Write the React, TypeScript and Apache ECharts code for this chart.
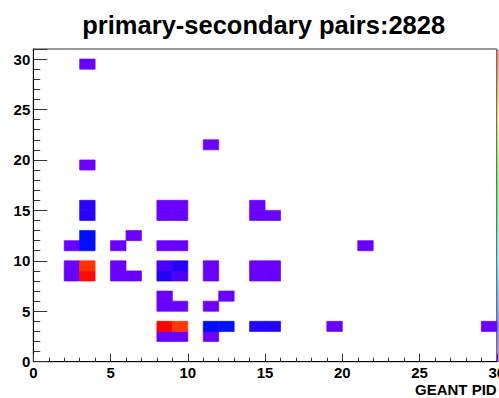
import React, { useEffect, useRef } from "react";
import * as echarts from "echarts";

// Bin lower edges (GEANT PID of primary, secondary) and pair counts
const xBins = [2, 2, 2, 3, 3, 3, 3, 3, 3, 3, 3, 5, 5, 5, 6, 6, 8, 8, 8, 8, 8, 8, 8, 8, 8, 9, 9, 9, 9, 9, 9, 9, 9, 11, 11, 11, 11, 11, 11, 12, 12, 14, 14, 14, 14, 14, 15, 15, 15, 15, 19, 21, 29];
const yBins = [8, 9, 11, 8, 9, 11, 12, 14, 15, 19, 29, 8, 9, 11, 8, 12, 2, 3, 5, 6, 8, 9, 11, 14, 15, 2, 3, 5, 8, 9, 11, 14, 15, 2, 3, 5, 8, 9, 21, 3, 6, 3, 8, 9, 14, 15, 3, 8, 9, 14, 3, 11, 3];
const counts = [10, 9, 10, 494, 477, 62, 60, 38, 36, 9, 9, 10, 9, 10, 10, 9, 10, 499, 10, 9, 40, 22, 10, 11, 10, 10, 474, 10, 22, 40, 10, 11, 10, 10, 60, 9, 10, 10, 9, 62, 9, 40, 10, 10, 10, 10, 40, 10, 10, 9, 10, 10, 10];

const xTicks = { min: 0, max: 30, interval: 5 };
const yTicks = { min: 0, max: 31, interval: 5 };
const titleText = "primary-secondary pairs:2828";
const xTitle = "GEANT PID";

const palette = ["#8000ff", "#0000ff", "#0080ff", "#00ffff", "#00ff80", "#00ff00", "#80ff00", "#ffff00", "#ff8000", "#ff0000"];

export default function App() {
  const ref = useRef<HTMLDivElement>(null);
  useEffect(() => {
    if (!ref.current) return;
    const chart = echarts.init(ref.current, null, { renderer: "svg" });
    const data = xBins.map((x, i) => [x, yBins[i], counts[i]]);
    const maxCount = Math.max(...counts);
    const font = "'Liberation Sans', Arial, sans-serif";
    const tickColor = "#333";
    const axisCommon = (tickLen: number, minorLen: number) => ({
      type: "value",
      axisLine: { show: true, onZero: false, lineStyle: { color: "#000", width: 1 } },
      axisTick: { show: true, inside: true, length: tickLen, lineStyle: { color: tickColor, width: 1 } },
      minorTick: { show: true, splitNumber: 5, length: minorLen, lineStyle: { color: tickColor, width: 1 } },
      splitLine: { show: false },
      minorSplitLine: { show: false },
      axisLabel: {
        fontSize: 15,
        fontWeight: "bold",
        fontFamily: font,
        color: "#000",
        formatter: (v: number) => (v % 5 === 0 ? String(v) : ""),
      },
    });
    const xAxis: any = axisCommon(8, 4);
    xAxis.min = xTicks.min;
    xAxis.max = xTicks.max;
    xAxis.interval = xTicks.interval;
    xAxis.axisLabel.margin = 3;
    const yAxis: any = axisCommon(14, 7);
    yAxis.min = yTicks.min;
    yAxis.max = yTicks.max;
    yAxis.interval = yTicks.interval;
    yAxis.axisLabel.margin = 3;
    yAxis.axisLabel.showMaxLabel = false;

    chart.setOption({
      animation: false,
      backgroundColor: "#fff",
      grid: {
        left: 33.3,
        right: 2.2,
        top: 49,
        bottom: 36.3,
        show: true,
        borderColor: "#333",
        borderWidth: 1,
        outerBoundsMode: "none",
        containLabel: false,
      },
      xAxis,
      yAxis,
      visualMap: {
        show: false,
        type: "continuous",
        dimension: 2,
        seriesIndex: 0,
        min: 0,
        max: maxCount,
        inRange: { color: palette },
      },
      series: [
        {
          type: "custom",
          data,
          encode: { x: 0, y: 1 },
          clip: true,
          renderItem: (params: any, api: any) => {
            const x = api.value(0);
            const y = api.value(1);
            const p0 = api.coord([x, y + 1]);
            const p1 = api.coord([x + 1, y]);
            const color = api.visual("color");
            return {
              type: "rect",
              shape: { x: p0[0], y: p0[1], width: p1[0] - p0[0], height: p1[1] - p0[1] },
              style: { fill: color, stroke: color, lineWidth: 0.7 },
            };
          },
        },
      ],
      graphic: [
        {
          type: "text",
          x: 263.7,
          y: 24.6,
          style: {
            text: titleText,
            font: `bold 25.5px ${font}`,
            fill: "#000",
            align: "center",
            verticalAlign: "middle",
          },
        },
        {
          type: "text",
          x: 496.7,
          y: 389.8,
          style: {
            text: xTitle,
            font: `bold 15px ${font}`,
            fill: "#000",
            align: "right",
            verticalAlign: "middle",
          },
        },
        {
          type: "rect",
          shape: { x: 497.3, y: 50, width: 1.7, height: 312 },
          style: {
            fill: new echarts.graphic.LinearGradient(
              0, 0, 0, 1,
              palette.slice().reverse().map((c, i) => ({ offset: i / (palette.length - 1), color: c }))
            ),
            opacity: 0.45,
          },
          z: 10,
        },
      ],
    });
    return () => chart.dispose();
  }, []);
  return <div ref={ref} style={{ position: "fixed", left: 0, top: 0, width: 499, height: 398 }} />;
}
